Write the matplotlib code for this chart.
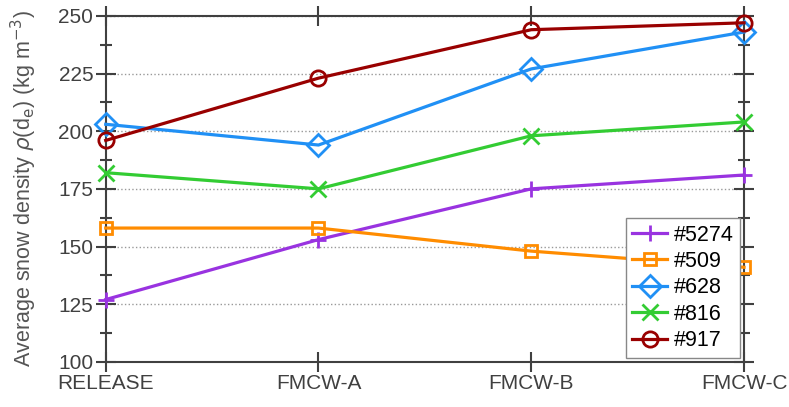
import matplotlib.pyplot as plt
import numpy as np
from matplotlib.ticker import MultipleLocator

plt.rcParams['font.family'] = ['Liberation Sans', 'DejaVu Sans']

stages = ["RELEASE", "FMCW-A", "FMCW-B", "FMCW-C"]
series_names = ["#5274", "#509", "#628", "#816", "#917"]
d5274 = [127, 153, 175, 181]
d509 = [158, 158, 148, 141]
d628 = [203, 194, 227, 243]
d816 = [182, 175, 198, 204]
d917 = [196, 223, 244, 247]

colors = ['#9933e0', '#ff8c00', '#2090f5', '#33cc33', '#990000']
markers = ['+', 's', 'D', 'x', 'o']

x = np.arange(len(stages))

fig = plt.figure(figsize=(7.89, 4.07), dpi=100)
ax = fig.add_axes([0.134, 0.111, 0.809, 0.85])

for vals, name, c, m in zip([d5274, d509, d628, d816, d917], series_names, colors, markers):
    ms = 12 if m in ('+', 'x') else 11
    if m == 's':
        ms = 9
    ax.plot(x, vals, color=c, lw=2.3, marker=m, ms=ms, mew=2, mfc='none',
            label=name, clip_on=False, zorder=3)

ax.set_xlim(0, 3)
ax.set_ylim(100, 250)
ax.set_xticks(x)
ax.set_xticklabels(stages)
ax.yaxis.set_major_locator(MultipleLocator(25))
ax.yaxis.set_minor_locator(MultipleLocator(12.5))
ax.grid(axis='y', which='major', linestyle=':', color='#999999', lw=1)
ax.tick_params(which='both', direction='inout', top=True, right=True,
               labelsize=15, colors='#404040', width=1.5)
ax.tick_params(which='major', length=14, pad=2)
ax.tick_params(which='minor', length=8)
for s in ax.spines.values():
    s.set_color('#404040')
    s.set_linewidth(1.5)

ax.set_ylabel(r"Average snow density $\rho$(d$_{\mathrm{e}}$) (kg m$^{-3}$)",
              fontsize=15.5, color='#555555', labelpad=14)

leg = ax.legend(loc='lower right', fontsize=15.5, fancybox=False, edgecolor='#888888',
                framealpha=1, handlelength=1.6, handletextpad=0.3, borderaxespad=0.2,
                labelspacing=0.25, borderpad=0.3)
leg.get_frame().set_linewidth(1)

fig.savefig("out.png", dpi=100)
